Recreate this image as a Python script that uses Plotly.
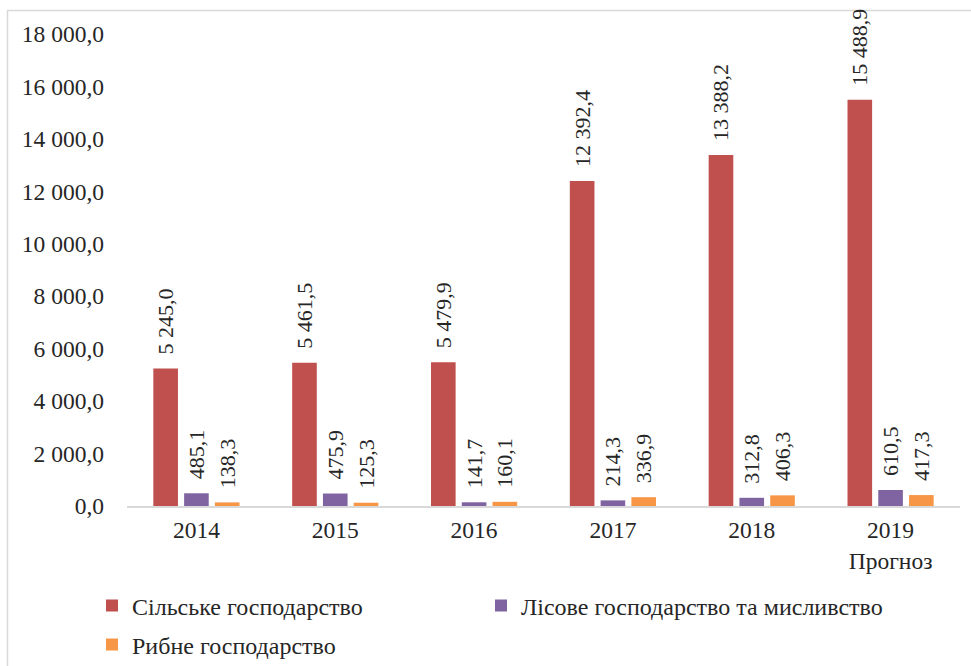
import plotly.graph_objects as go

categories = ["2014", "2015", "2016", "2017", "2018", "2019<br>Прогноз"]
agri = [5245.0, 5461.5, 5479.9, 12392.4, 13388.2, 15488.9]
forest = [485.1, 475.9, 141.7, 214.3, 312.8, 610.5]
fish = [138.3, 125.3, 160.1, 336.9, 406.3, 417.3]
names = ["Сільське господарство", "Лісове господарство та мисливство", "Рибне господарство"]
colors = ["#C0504D", "#8064A2", "#F79646"]
y_ticks = list(range(0, 18001, 2000))

FONT = "Liberation Serif"
TXT = "#262626"
W, H = 971, 666
L, R, T, B = 127, 11, 34, 160
pw, ph = W - L - R, H - T - B

def px_x(p):
    return (p - L) / pw

def px_y(p):
    return (H - B - p) / ph

fig = go.Figure()
legends = ["legend", "legend2", "legend3"]
for name, vals, col, lg in zip(names, [agri, forest, fish], colors, legends):
    fig.add_trace(go.Bar(
        x=categories, y=vals, name=name, marker=dict(color=col, line=dict(width=0)),
        texttemplate="\u00a0\u00a0%{y:,.1f}", textposition="outside", textangle=-90,
        constraintext="none", cliponaxis=False, legend=lg,
        textfont=dict(family=FONT, size=22, color=TXT),
    ))

fig.add_shape(type="rect", xref="paper", yref="paper",
              x0=px_x(7.5), x1=px_x(990), y0=px_y(10.5), y1=px_y(700),
              line=dict(color="#D9D9D9", width=1.5), fillcolor="rgba(0,0,0,0)", layer="below")

leg_common = dict(orientation="h", xanchor="left", yanchor="middle",
                  font=dict(family=FONT, size=24, color=TXT),
                  itemwidth=30, tracegroupgap=0, bgcolor="rgba(0,0,0,0)")

fig.update_layout(
    width=W, height=H,
    margin=dict(l=L, r=R, t=T, b=B, autoexpand=False),
    paper_bgcolor="white", plot_bgcolor="white",
    separators=", ",
    barmode="group", bargap=0.335, bargroupgap=0.2,
    font=dict(family=FONT, size=22, color=TXT),
    showlegend=True,
    legend=dict(x=px_x(92), y=px_y(606), **leg_common),
    legend2=dict(x=px_x(481), y=px_y(606), **leg_common),
    legend3=dict(x=px_x(92), y=px_y(645), **leg_common),
)
fig.update_xaxes(showline=True, linecolor="#D9D9D9", linewidth=1.5, ticks="",
                 showgrid=False, ticklabelstandoff=2,
                 tickfont=dict(family=FONT, size=23.5, color=TXT))
fig.update_yaxes(range=[0, 18000], tickvals=y_ticks, tickformat=",.1f", showgrid=False,
                 showline=False, zeroline=False, ticks="", ticklabelstandoff=22,
                 tickfont=dict(family=FONT, size=23.5, color=TXT))

fig.write_html("out.html", post_script="document.body.style.margin='0';",
               config={"displayModeBar": False})
